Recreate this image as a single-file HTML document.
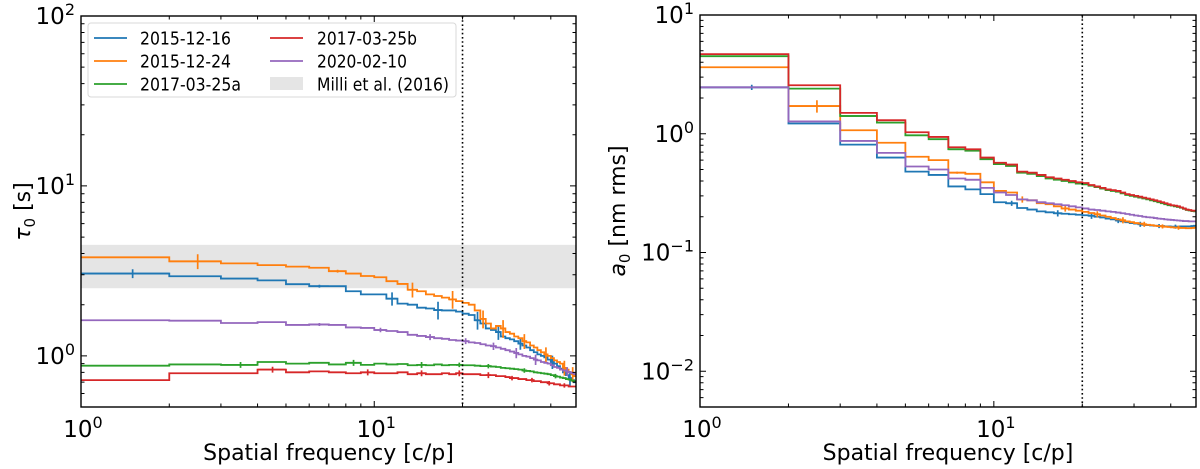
<!DOCTYPE html>
<html><head><meta charset="utf-8"><style>
html,body{margin:0;padding:0;background:#fff;}
svg{display:block;font-family:"DejaVu Sans","Liberation Sans",sans-serif;}
</style></head><body>
<svg id="fig" width="1200" height="469" viewBox="0 0 1200 469" xmlns="http://www.w3.org/2000/svg"></svg>
<script>
// ---------- data ----------
const seriesNames = ["2015-12-16","2015-12-24","2017-03-25a","2017-03-25b","2020-02-10"];
const seriesColors = ["#1f77b4","#ff7f0e","#2ca02c","#d62728","#9467bd"];
const binEdgesStart = 1; // bins [f, f+1)
const tauBlue = [3.05,2.94,2.85,2.78,2.64,2.57,2.57,2.4,2.3,2.3,2.17,2.03,2.0,1.92,1.9,1.86,1.85,1.85,1.82,1.77,1.74,1.62,1.55,1.45,1.42,1.38,1.3,1.27,1.25,1.22,1.18,1.15,1.12,1.08,1.05,1.02,1.0,0.98,0.95,0.92,0.9,0.87,0.84,0.8,0.77,0.74,0.72,0.7];
const tauOrange = [3.8,3.6,3.5,3.42,3.35,3.3,3.15,3.05,2.95,2.9,2.75,2.65,2.45,2.4,2.3,2.25,2.2,2.15,2.1,2.05,2.0,1.85,1.65,1.55,1.45,1.5,1.45,1.38,1.35,1.3,1.27,1.22,1.2,1.15,1.12,1.08,1.05,1.02,1.0,0.97,0.94,0.92,0.9,0.85,0.83,0.8,0.78,0.76];
const tauGreen = [0.875,0.89,0.885,0.92,0.9,0.91,0.89,0.91,0.885,0.9,0.89,0.895,0.88,0.885,0.88,0.89,0.88,0.885,0.885,0.88,0.88,0.875,0.87,0.87,0.865,0.86,0.85,0.845,0.84,0.835,0.83,0.82,0.815,0.81,0.8,0.795,0.79,0.785,0.78,0.77,0.76,0.755,0.745,0.74,0.73,0.725,0.715,0.71];
const tauRed = [0.72,0.79,0.79,0.83,0.8,0.81,0.8,0.79,0.8,0.79,0.79,0.8,0.78,0.79,0.78,0.78,0.79,0.78,0.79,0.78,0.78,0.78,0.77,0.77,0.77,0.76,0.76,0.75,0.74,0.74,0.73,0.73,0.72,0.72,0.71,0.71,0.7,0.7,0.69,0.69,0.68,0.68,0.67,0.67,0.67,0.66,0.66,0.66];
const tauPurple = [1.62,1.61,1.56,1.58,1.52,1.53,1.52,1.47,1.46,1.42,1.4,1.38,1.33,1.31,1.29,1.27,1.26,1.24,1.23,1.22,1.2,1.19,1.17,1.15,1.14,1.12,1.1,1.08,1.06,1.04,1.02,1.0,0.99,0.97,0.95,0.94,0.92,0.91,0.9,0.88,0.86,0.85,0.83,0.82,0.81,0.8,0.79,0.78];
const a0Blue = [2.46,1.22,0.81,0.63,0.48,0.45,0.36,0.34,0.31,0.265,0.26,0.237,0.23,0.222,0.218,0.214,0.212,0.21,0.208,0.206,0.204,0.2,0.197,0.193,0.19,0.186,0.183,0.18,0.177,0.175,0.173,0.171,0.17,0.169,0.168,0.167,0.167,0.166,0.166,0.165,0.165,0.165,0.166,0.166,0.166,0.166,0.167,0.168];
const a0Orange = [3.63,1.71,1.07,0.84,0.64,0.6,0.47,0.46,0.39,0.33,0.32,0.28,0.275,0.26,0.255,0.245,0.235,0.23,0.225,0.22,0.215,0.21,0.205,0.2,0.195,0.19,0.187,0.183,0.18,0.177,0.175,0.173,0.171,0.17,0.168,0.167,0.166,0.165,0.164,0.163,0.162,0.162,0.161,0.161,0.16,0.16,0.161,0.162];
const a0Green = [4.5,2.4,1.41,1.24,0.97,0.9,0.74,0.72,0.61,0.555,0.535,0.47,0.46,0.44,0.42,0.41,0.4,0.39,0.38,0.375,0.365,0.355,0.345,0.335,0.33,0.325,0.315,0.305,0.3,0.295,0.29,0.285,0.28,0.275,0.27,0.265,0.26,0.255,0.25,0.248,0.245,0.242,0.238,0.233,0.228,0.226,0.223,0.222];
const a0Red = [4.68,2.56,1.5,1.3,1.03,0.94,0.77,0.74,0.63,0.57,0.55,0.48,0.47,0.45,0.43,0.42,0.41,0.4,0.39,0.385,0.37,0.36,0.35,0.34,0.335,0.33,0.32,0.31,0.305,0.3,0.295,0.29,0.285,0.28,0.275,0.27,0.265,0.26,0.255,0.25,0.248,0.245,0.24,0.235,0.23,0.228,0.225,0.225];
const a0Purple = [2.46,1.27,0.87,0.69,0.53,0.5,0.42,0.41,0.35,0.32,0.305,0.28,0.275,0.265,0.26,0.255,0.25,0.245,0.24,0.235,0.23,0.228,0.225,0.222,0.22,0.217,0.214,0.211,0.208,0.205,0.203,0.2,0.198,0.197,0.195,0.193,0.192,0.19,0.189,0.188,0.187,0.186,0.185,0.184,0.184,0.183,0.183,0.183];
// error bars: bin index (0-based) and relative error
const tauErrBins = [[0,5,10,15,21,25,30,39,45],[1,6,12,17,22,26,31,37,43,46],[2,7,13,18,23,31,40],[3,8,13,18,23,28,33,38,43],[5,9,14,19,24,29,34,44]];
const tauErrRel = [[0.06,0.02,0.09,0.12,0.12,0.1,0.08,0.09,0.1],[0.1,0.02,0.1,0.12,0.12,0.12,0.1,0.1,0.1,0.1],[0.04,0.04,0.04,0.03,0.03,0.03,0.03],[0.04,0.04,0.04,0.04,0.04,0.03,0.03,0.03,0.03],[0.02,0.03,0.04,0.04,0.05,0.07,0.07,0.06]];
const a0ErrBins = [[0,10,15,20,25,30,35,40],[1,6,11,16,21,26,31,36,41],[2,6],[3],[7,13]];
const a0ErrRel = [[0.05,0.05,0.06,0.06,0.05,0.05,0.04,0.04],[0.12,0.02,0.06,0.06,0.06,0.06,0.05,0.04,0.04],[0.01,0.01],[0.01],[0.01,0.01]];
const millBand = [2.5, 4.5];
const cutoffFreq = 20;
const xTickLabels = ["0","1"];
const tauYTickExps = [0,1,2];
const a0YTickExps = [-2,-1,0,1];

// ---------- helpers ----------
const NS="http://www.w3.org/2000/svg";
const svg=document.getElementById('fig');
function mk(tag,attrs,parent){const e=document.createElementNS(NS,tag);for(const k in attrs)e.setAttribute(k,attrs[k]);(parent||svg).appendChild(e);return e;}

function makeAxes(L,R,T,B,xmin,xmax,ymin,ymax){
  const lx0=Math.log10(xmin),lx1=Math.log10(xmax),ly0=Math.log10(ymin),ly1=Math.log10(ymax);
  return {L,R,T,B,
    x:v=>L+(Math.log10(v)-lx0)/(lx1-lx0)*(R-L),
    y:v=>B-(Math.log10(v)-ly0)/(ly1-ly0)*(B-T),
    xmin,xmax,ymin,ymax};
}

function drawPanel(ax,series,errBins,errRel,yExps,name,ylabelHTML,ylabelX,band,legend){
  const g=mk('g',{});
  
  
  const clipId=name+'-clip';
  const cp=mk('clipPath',{id:clipId},g);
  mk('rect',{x:ax.L,y:ax.T,width:ax.R-ax.L,height:ax.B-ax.T},cp);
  const plot=mk('g',{'clip-path':'url(#'+clipId+')'},g);
  if(band){
    const r=mk('rect',{x:ax.L,y:ax.y(band[1]),width:ax.R-ax.L,height:ax.y(band[0])-ax.y(band[1]),fill:'#e5e5e5'},plot);
    
    
  }
  series.forEach((s,si)=>{
    const vals=s.vals;
    let d='';
    for(let i=0;i<vals.length;i++){
      const f0=binEdgesStart+i,f1=f0+1;
      const yy=ax.y(vals[i]).toFixed(2);
      d+=(i===0?'M':'L')+ax.x(f0).toFixed(2)+','+yy+'L'+ax.x(f1).toFixed(2)+','+yy;
    }
    const p=mk('path',{d,fill:'none',stroke:seriesColors[s.ci],'stroke-width':1.8},plot);
    
    
    const eb=errBins[s.ci],er=errRel[s.ci];
    eb.forEach((bi,k)=>{
      const v=vals[bi],fc=binEdgesStart+bi+0.5;
      const xc=ax.x(fc),x0=ax.x(fc-0.5),x1=ax.x(fc+0.5);
      const e=mk('path',{d:`M${x0},${ax.y(v)}L${x1},${ax.y(v)}M${xc},${ax.y(v*(1+er[k]))}L${xc},${ax.y(v*(1-er[k]))}`,stroke:seriesColors[s.ci],'stroke-width':1.7,fill:'none'},plot);
      
      
    });
  });
  const cl=mk('line',{x1:ax.x(cutoffFreq),x2:ax.x(cutoffFreq),y1:ax.T,y2:ax.B,stroke:'#000','stroke-width':1.6,'stroke-dasharray':'1.6,2.6'},plot);
  
  
  const tk=mk('g',{stroke:'#000','stroke-width':1},g);
  const xMaj=[1,10],xMin=[2,3,4,5,6,7,8,9,20,30,40];
  xMaj.forEach(v=>{const X=ax.x(v);mk('path',{d:`M${X},${ax.B}v-6M${X},${ax.T}v6`},tk);});
  xMin.forEach(v=>{if(v<=ax.xmax){const X=ax.x(v);mk('path',{d:`M${X},${ax.B}v-3.5M${X},${ax.T}v3.5`},tk);}});
  for(let e=Math.floor(Math.log10(ax.ymin));e<=Math.log10(ax.ymax);e++){
    for(let m=1;m<10;m++){
      const v=m*Math.pow(10,e);
      if(v<ax.ymin*0.999||v>ax.ymax*1.001)continue;
      const len=m===1?6:3.5,Y=ax.y(v);
      mk('path',{d:`M${ax.L},${Y}h${len}M${ax.R},${Y}h-${len}`},tk);
    }
  }
  const fr=mk('rect',{x:ax.L,y:ax.T,width:ax.R-ax.L,height:ax.B-ax.T,fill:'none',stroke:'#000','stroke-width':1.4},g);
  
  
  xTickLabels.forEach((ex,i)=>{
    const X=ax.x(Math.pow(10,+ex));
    const t=mk('text',{x:X+2,y:ax.B+30,'text-anchor':'middle','font-size':23},g);
    
    
    t.innerHTML='10<tspan dy="-9" font-size="16">'+ex+'</tspan>';
  });
  yExps.forEach(ex=>{
    const Y=ax.y(Math.pow(10,ex));
    const t=mk('text',{x:ax.L-6,y:Y+8,'text-anchor':'end','font-size':23},g);
    
    
    const lab=ex<0?'\u2212'+(-ex):String(ex);
    t.innerHTML='10<tspan dy="-9" font-size="16">'+lab+'</tspan>';
  });
  const xl=mk('text',{x:(ax.L+ax.R)/2,y:ax.B+53,'text-anchor':'middle','font-size':22},g);
  
  
  xl.textContent='Spatial frequency [c/p]';
  const yl=mk('text',{x:0,y:0,'text-anchor':'middle','font-size':22,transform:`translate(${ylabelX},${(ax.T+ax.B)/2}) rotate(-90)`},g);
  
  
  yl.innerHTML=ylabelHTML;
  if(legend){
    const lg=mk('g',{},g);
    
    
    mk('rect',{x:88,y:23,width:368,height:74,rx:3,fill:'#fff','fill-opacity':0.85,stroke:'#d8d8d8','stroke-width':1},lg);
    const items=[[0,0,91],[1,0,91],[2,0,101],[3,1,100],[4,1,90]];
    const rows=[38,61,84];
    const cols=[[94,140],[270,317]];
    let rowCount=[0,0];
    items.forEach(([ci,c,w])=>{
      const r=rows[rowCount[c]++];
      const ent=mk('g',{},lg);
      
      
      mk('line',{x1:cols[c][0],x2:cols[c][0]+33,y1:r,y2:r,stroke:seriesColors[ci],'stroke-width':1.8},ent);
      const t=mk('text',{x:cols[c][1],y:r+6.5,'font-size':17.5,textLength:w,lengthAdjust:'spacingAndGlyphs'},ent);
      t.textContent=seriesNames[ci];
    });
    const ent=mk('g',{},lg);
    
    
    mk('rect',{x:270,y:77,width:33,height:13,fill:'#e5e5e5'},ent);
    const t=mk('text',{x:317,y:90.5,'font-size':17.5,textLength:132,lengthAdjust:'spacingAndGlyphs'},ent);
    t.textContent='Milli et al. (2016)';
  }
}

const xmax=Math.pow(10,1.688);
const axL=makeAxes(81,576,16,407,1,xmax,0.5,100);
const axR=makeAxes(700,1196,15,407,1,xmax,0.005,10);
drawPanel(axL,[{ci:0,vals:tauBlue},{ci:1,vals:tauOrange},{ci:2,vals:tauGreen},{ci:3,vals:tauRed},{ci:4,vals:tauPurple}],
  tauErrBins,tauErrRel,tauYTickExps,'tau0-panel','<tspan font-style="italic">τ</tspan><tspan font-size="15" dy="5">0</tspan><tspan dy="-5"> [s]</tspan>',30,millBand,true);
drawPanel(axR,[{ci:0,vals:a0Blue},{ci:1,vals:a0Orange},{ci:2,vals:a0Green},{ci:3,vals:a0Red},{ci:4,vals:a0Purple}],
  a0ErrBins,a0ErrRel,a0YTickExps,'a0-panel','<tspan font-style="italic">a</tspan><tspan font-size="15" dy="5">0</tspan><tspan dy="-5"> [nm rms]</tspan>',625,null,false);
</script>
</body></html>
